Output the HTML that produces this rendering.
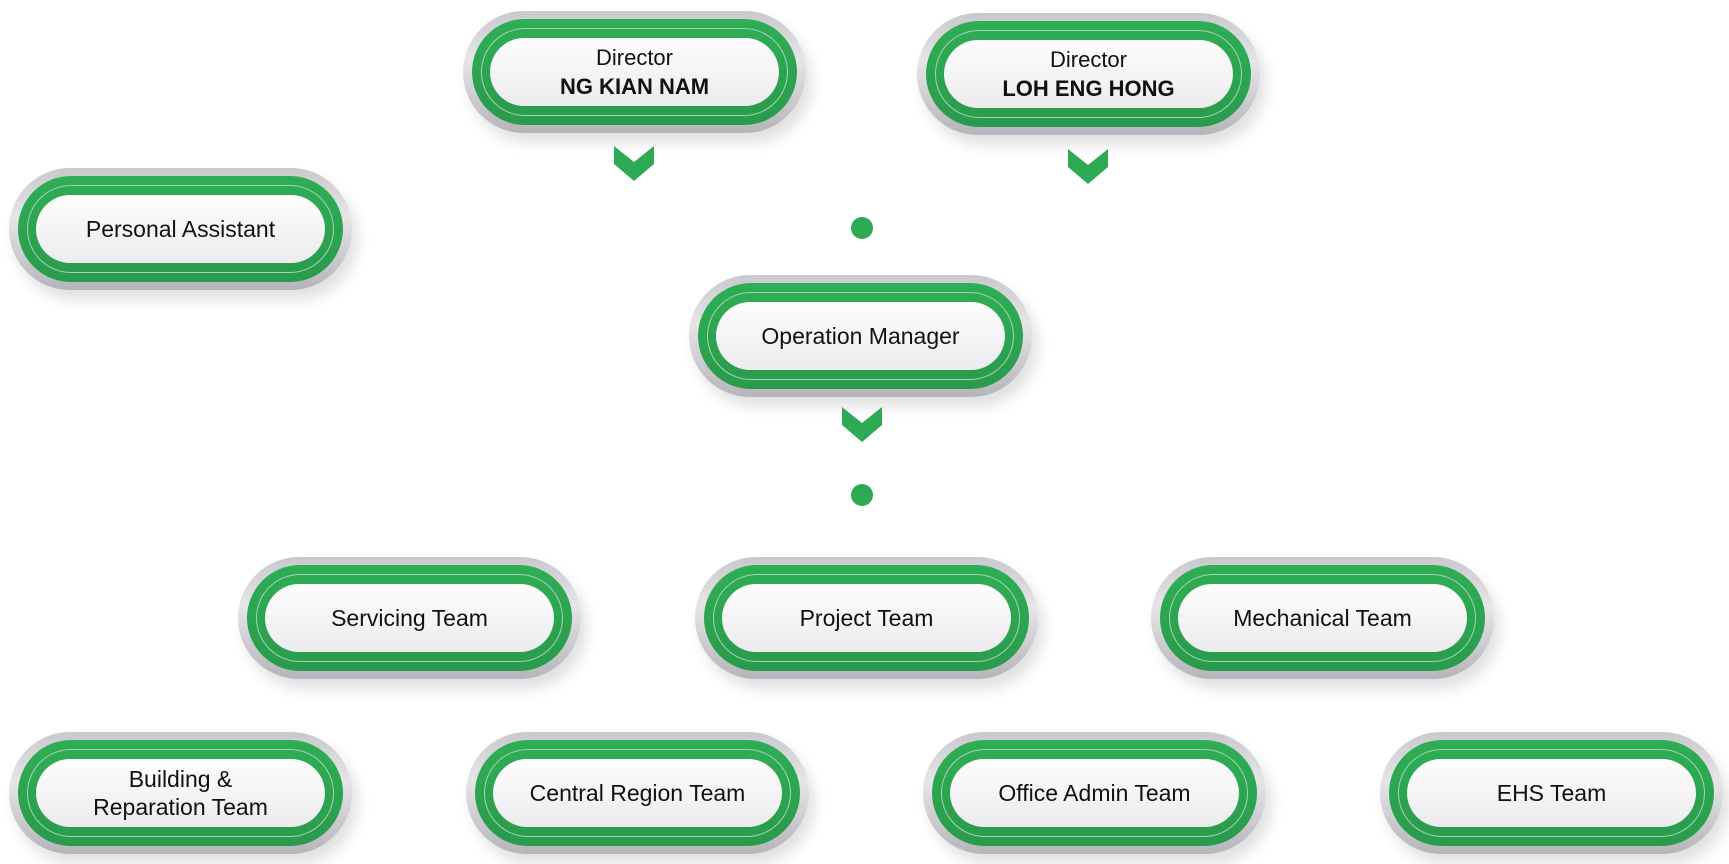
<!DOCTYPE html>
<html><head><meta charset="utf-8"><style>
body{margin:0;width:1729px;height:864px;background:#fff;position:relative;overflow:hidden;font-family:"Liberation Sans",sans-serif}
.n{position:absolute;width:343px;height:122px;border-radius:61px;background:linear-gradient(180deg,#c9c8cd,#e6e6e9 40%,#b5b4ba);box-shadow:6px 10px 14px rgba(0,0,0,0.12)}
.g{position:absolute;left:9px;top:8px;right:9px;bottom:8px;border-radius:53px;background:linear-gradient(180deg,#2fae55,#2a9a4c)}
.l{position:absolute;left:18px;top:17px;right:18px;bottom:17px;border-radius:44px;border:1.5px solid #9fd6ae}
.w{position:absolute;left:27px;top:27px;right:27px;bottom:27px;border-radius:34px;background:linear-gradient(180deg,#fdfdfd,#ececef);display:flex;align-items:center;justify-content:center;text-align:center;color:#111;font-size:23px;line-height:28px}
.d{position:absolute;width:22px;height:22px;border-radius:50%;background:#2daa53}
svg{position:absolute}
</style></head><body>

<div class="n" style="left:463px;top:11px"><div class="g"></div><div class="l"></div><div class="w"><div><span style="font-size:22px">Director</span><br><b style="font-size:22px">NG KIAN NAM</b></div></div></div>
<div class="n" style="left:917px;top:13px"><div class="g"></div><div class="l"></div><div class="w"><div><span style="font-size:22px">Director</span><br><b style="font-size:22px">LOH ENG HONG</b></div></div></div>
<div class="n" style="left:9px;top:168px"><div class="g"></div><div class="l"></div><div class="w">Personal Assistant</div></div>
<div class="n" style="left:689px;top:275px"><div class="g"></div><div class="l"></div><div class="w">Operation Manager</div></div>
<div class="n" style="left:238px;top:557px"><div class="g"></div><div class="l"></div><div class="w">Servicing Team</div></div>
<div class="n" style="left:695px;top:557px"><div class="g"></div><div class="l"></div><div class="w">Project Team</div></div>
<div class="n" style="left:1151px;top:557px"><div class="g"></div><div class="l"></div><div class="w">Mechanical Team</div></div>
<div class="n" style="left:9px;top:732px"><div class="g"></div><div class="l"></div><div class="w" style="line-height:28px">Building &amp;<br>Reparation Team</div></div>
<div class="n" style="left:466px;top:732px"><div class="g"></div><div class="l"></div><div class="w">Central Region Team</div></div>
<div class="n" style="left:923px;top:732px"><div class="g"></div><div class="l"></div><div class="w">Office Admin Team</div></div>
<div class="n" style="left:1380px;top:732px"><div class="g"></div><div class="l"></div><div class="w">EHS Team</div></div>

<svg width="1729" height="864" style="left:0;top:0">
<g fill="#2daa53">
<polygon points="614,146 634,162 654,146 654,164 634,181 614,164"/>
<polygon points="1068,149 1088,165 1108,149 1108,167 1088,184 1068,167"/>
<polygon points="842,407 862,423 882,407 882,425 862,442 842,425"/>
</g>
</svg>
<div class="d" style="left:851px;top:217px"></div>
<div class="d" style="left:851px;top:484px"></div>
</body></html>
